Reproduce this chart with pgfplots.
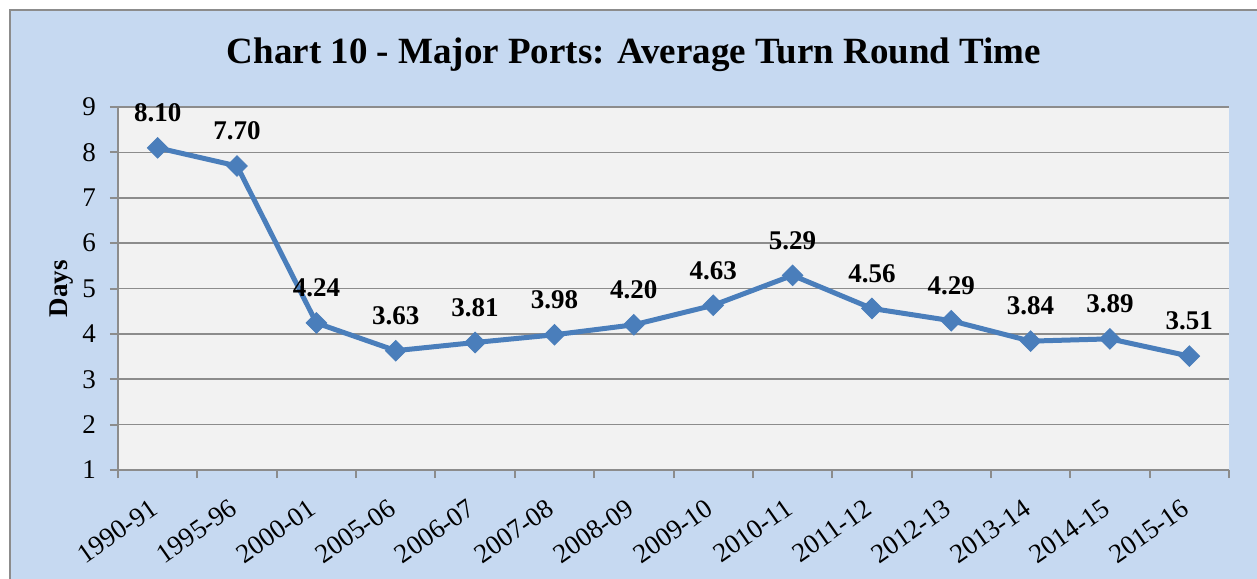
\documentclass[border=0pt]{standalone}
\usepackage{fontspec}
\setmainfont{Liberation Serif}
\usepackage{pgfplots}
\pgfplotsset{compat=1.18}
\definecolor{bgblue}{HTML}{C6D9F1}
\definecolor{plotgray}{HTML}{F2F2F2}
\definecolor{gridgray}{HTML}{8C8C8C}
\definecolor{lineblue}{HTML}{4A7EBB}
\newcommand{\tickfont}{\fontsize{13.5pt}{15pt}\selectfont}

\begin{document}
\begin{tikzpicture}
\useasboundingbox (-59pt,-54pt) rectangle (569.5pt,235pt);
\fill[bgblue,draw=gridgray,line width=1pt] (-54pt,-70pt) rectangle (580pt,230pt);
\node[font=\fontsize{18.5pt}{22pt}\selectfont\bfseries] at (258pt,207.5pt)
  {Chart 10 - Major Ports: Average Turn Round Time};
\begin{axis}[
  at={(0,0)}, anchor=south west,
  scale only axis, width=555.5pt, height=181.5pt,
  xmin=-0.5, xmax=13.5, ymin=1, ymax=9,
  ytick={1,...,9},
  xtick={0,...,13},
  xticklabels={1990-91,1995-96,2000-01,2005-06,2006-07,2007-08,2008-09,
               2009-10,2010-11,2011-12,2012-13,2013-14,2014-15,2015-16},
  minor xtick={-0.5,0.5,...,13.5},
  major x tick style={draw=none},
  minor x tick style={gridgray,line width=1pt},
  y tick style={gridgray,line width=1pt},
  tick align=outside, major tick length=4pt, minor tick length=4pt,
  axis x line*=bottom, axis y line*=left,
  axis line style={gridgray,line width=1pt,-},
  ymajorgrids, grid style={gridgray,line width=0.8pt},
  axis background/.style={fill=plotgray},
  /pgf/number format/assume math mode=true,
  tick label style={font=\tickfont},
  yticklabel style={xshift=-3.5pt},
  xticklabel style={xshift=-3.5pt,yshift=-5pt,rotate=35,anchor=north east},
  ylabel={\textbf{Days}},
  ylabel style={at={(rel axis cs:0,0.5)},anchor=center,yshift=28pt,
                font=\fontsize{13.5pt}{15pt}\selectfont},
  nodes near coords={\pgfmathprintnumber[fixed,fixed zerofill,precision=2]{\pgfplotspointmeta}},
  every node near coord/.append style={anchor=center,yshift=17.5pt,text=black,
                font=\fontsize{13.5pt}{15pt}\selectfont\bfseries},
]
\addplot[lineblue,line width=2.5pt,mark=square*,
         mark options={rotate=45,solid,fill=lineblue,draw=lineblue,line width=0.5pt},
         mark size=3.6pt] coordinates {
  (0,8.10) (1,7.70) (2,4.24) (3,3.63) (4,3.81) (5,3.98) (6,4.20)
  (7,4.63) (8,5.29) (9,4.56) (10,4.29) (11,3.84) (12,3.89) (13,3.51)};
\end{axis}
\end{tikzpicture}
\end{document}
